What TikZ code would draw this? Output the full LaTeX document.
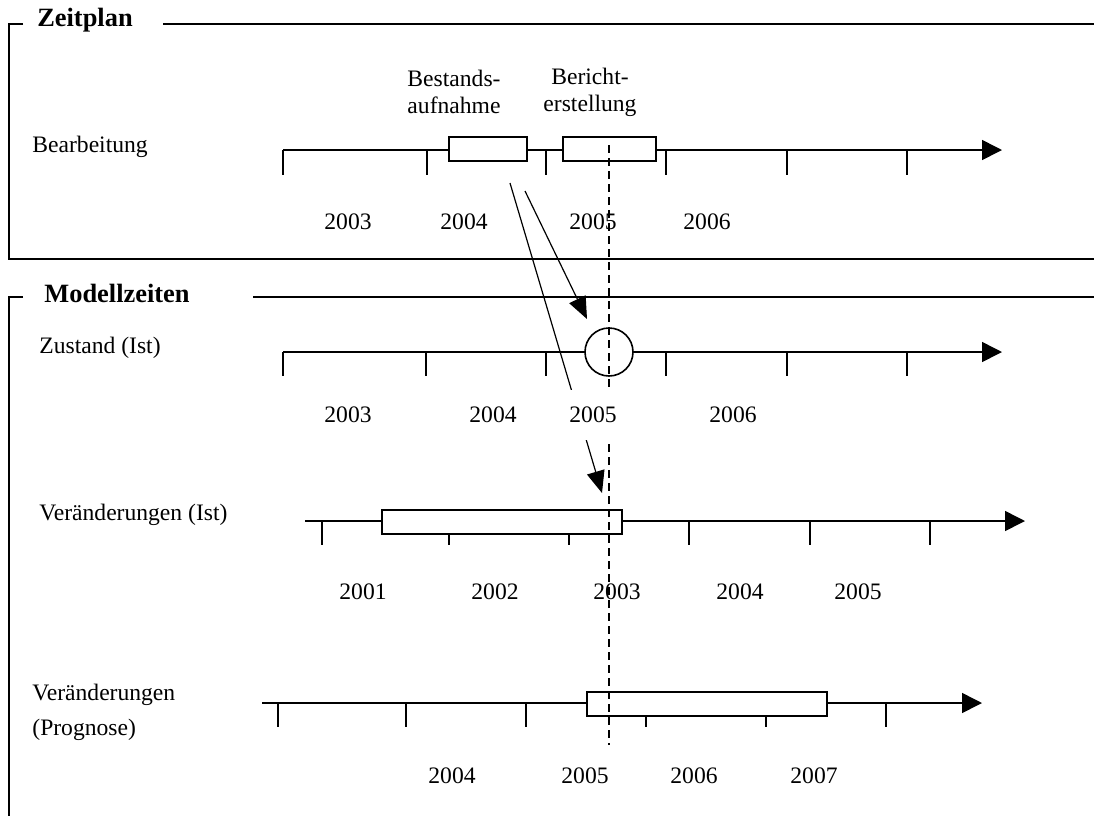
\documentclass[tikz,border=0pt]{standalone}
\usepackage{fontspec}
\setmainfont{Liberation Serif}
\usetikzlibrary{arrows.meta}
\begin{document}
\begin{tikzpicture}[x=0.5pt,y=-0.5pt,
  every node/.style={inner sep=0pt, font=\fontsize{11.8}{13.5}\selectfont},
  ln/.style={line width=0.8pt},
  tl/.style={ln,-{Triangle[length=10pt,width=10pt]}},
  box/.style={ln, fill=white},
  ptr/.style={line width=0.6pt,-{Triangle[length=11pt,width=9pt]}},
  title/.style={font=\fontsize{13.2}{15}\bfseries\selectfont},
  lbl/.style={anchor=west},
  refline/.style={line width=0.8pt, dash pattern=on 4pt off 2.5pt}]
\useasboundingbox (0,0) rectangle (1094,816);

% frames
\draw[ln] (23,24) -- (9,24) -- (9,259) -- (1094,259);
\draw[ln] (163,24) -- (1094,24);
\node[title] (zeit) at (85,20) {Zeitplan};
\draw[ln] (23,297) -- (9,297) -- (9,816);
\draw[ln] (253,297) -- (1094,297);
\node[title] (mod) at (117,293) {Modellzeiten};

% row labels
\node[lbl] (bearb) at (32,147) {Bearbeitung};
\node[lbl] (zust) at (39,348) {Zustand (Ist)};
\node[lbl] (verist) at (39,515) {Veränderungen (Ist)};
\node[lbl] (verprog1) at (32,695) {Veränderungen};
\node[lbl] (verprog2) at (32,730) {(Prognose)};

% row 1: Bearbeitung
\draw[tl] (283,150) -- (1002,150);
\foreach \x in {283,427,546,666,787,907} \draw[ln] (\x,150) -- (\x,175);
\draw[box] (449,137) rectangle (527,161);
\draw[box] (563,137) rectangle (656,161);
\node[align=center] (best) at (454,92) {Bestands-\\aufnahme};
\node[align=center] (ber) at (590,92) {Bericht-\\erstellung};
\node (a1) at (348,222) {2003};
\node (a2) at (464,222) {2004};
\node (a3) at (593,222) {2005};
\node (a4) at (707,222) {2006};

% row 2: Zustand
\draw[tl] (283,352) -- (1002,352);
\foreach \x in {283,426,546,666,787,907} \draw[ln] (\x,352) -- (\x,376);
\node[circle, draw, line width=0.8pt, fill=white, minimum size=24pt] (circ) at (609,352) {};
\node (b1) at (348,415) {2003};
\node (b2) at (493,415) {2004};
\node (b4) at (733,415) {2006};

% row 3: Veraenderungen (Ist)
\draw[tl] (305,521) -- (1025,521);
\foreach \x in {322,449,569,689,810,930} \draw[ln] (\x,521) -- (\x,545);
\draw[box] (382,510) rectangle (622,534);
\node (c1) at (363,592) {2001};
\node (c2) at (495,592) {2002};
\node (c3) at (617,592) {2003};
\node (c4) at (740,592) {2004};
\node (c5) at (858,592) {2005};

% row 4: Veraenderungen (Prognose)
\draw[tl] (262,703) -- (982,703);
\foreach \x in {278,406,526,646,766,886} \draw[ln] (\x,703) -- (\x,727);
\draw[box] (587,692) rectangle (827,716);
\node (d1) at (452,776) {2004};
\node (d2) at (585,776) {2005};
\node (d3) at (694,776) {2006};
\node (d4) at (814,776) {2007};

% reference line and pointers
\coordinate (reftop) at (609,145);
\coordinate (refbot) at (609,745);
\draw[refline] (reftop) -- (refbot);
\coordinate (p1s) at (525,191);
\coordinate (p1e) at (587,319);
\coordinate (p2s) at (510,183);
\coordinate (p2e) at (602,493);
\draw[ptr] (p1s) -- (p1e);
\draw[ptr] (p2s) -- (p2e);
\node[fill=white, minimum height=25pt, inner xsep=1pt] (b3) at (593,415) {2005};
\end{tikzpicture}
\end{document}
